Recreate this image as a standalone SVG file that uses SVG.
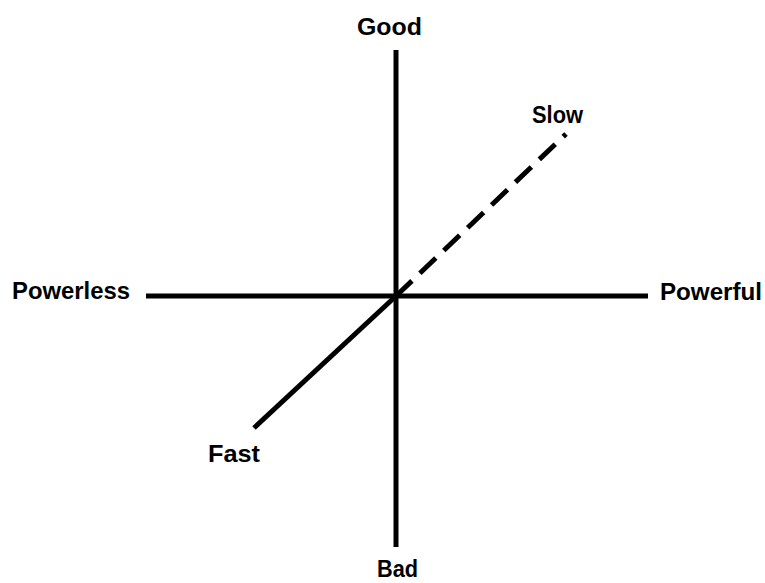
<svg xmlns="http://www.w3.org/2000/svg" width="765" height="583" viewBox="0 0 765 583">
<style>
.lbl{font-family:"Liberation Sans",Arial,sans-serif;font-weight:bold;font-size:24px;fill:#000}
.ax{stroke:#000;stroke-width:5;fill:none;stroke-linecap:butt}
</style>
<rect width="765" height="583" fill="#fff"/>
<g id="connectors">
<line class="ax" x1="396" y1="50" x2="396" y2="547"/>
<line class="ax" x1="146" y1="296" x2="648" y2="296"/>
<line class="ax" x1="254" y1="428" x2="396" y2="296"/>
<line class="ax" x1="396" y1="296" x2="566" y2="134" stroke-width="6" stroke-dasharray="22,11"/>
</g>
<g id="good"><text class="lbl" x="357" y="35" textLength="65" lengthAdjust="spacingAndGlyphs">Good</text></g>
<g id="bad"><text class="lbl" x="377" y="577" font-size="22" textLength="41" lengthAdjust="spacingAndGlyphs">Bad</text></g>
<g id="slow"><text class="lbl" x="532" y="123" textLength="51" lengthAdjust="spacingAndGlyphs">Slow</text></g>
<g id="fast"><text class="lbl" x="208" y="462" textLength="52" lengthAdjust="spacingAndGlyphs">Fast</text></g>
<g id="powerless"><text class="lbl" x="12" y="299" textLength="118" lengthAdjust="spacingAndGlyphs">Powerless</text></g>
<g id="powerful"><text class="lbl" x="660" y="300" textLength="102" lengthAdjust="spacingAndGlyphs">Powerful</text></g>
</svg>
